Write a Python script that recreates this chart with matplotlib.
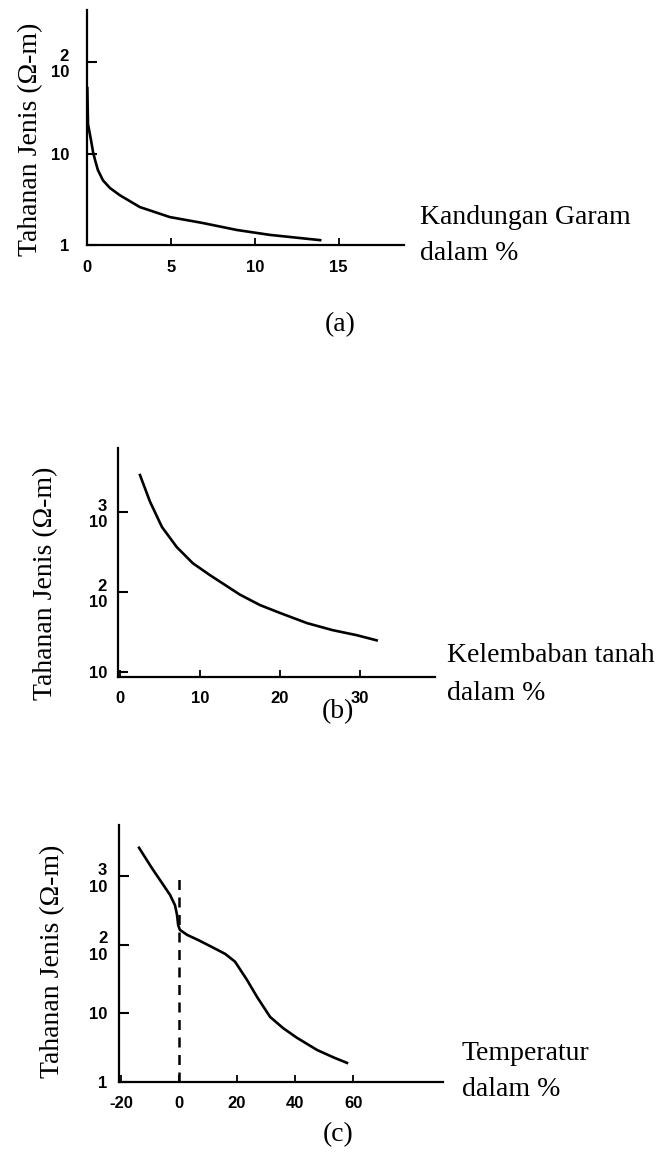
import numpy as np
import matplotlib.pyplot as plt
from matplotlib.ticker import NullLocator, FixedLocator, FixedFormatter

# Data (resistivity in ohm-m, log scale)
garam_x = [0.02, 0.06, 0.24, 0.36, 0.48, 0.65, 0.95, 1.37, 1.96, 3.15,
           4.94, 6.9, 8.93, 10.9, 13.9]
garam_r = [52, 21, 14, 10.4, 8.5, 6.6, 5.1, 4.2, 3.5, 2.6,
           2.02, 1.74, 1.46, 1.29, 1.13]

lembab_x = [2.5, 3.75, 5.25, 7.1, 9.1, 11.25, 15, 17.5, 20, 23.4, 26.6, 29.6, 32.1]
lembab_r = [2900, 1350, 650, 365, 230, 163, 93, 69, 55, 41, 33.5, 29, 25]

suhu_x = [-13.8, -9.3, -5.9, -3.1, -1.4, -0.7, -0.3, 0.3, 2.8, 6.6, 11.4,
          15.9, 19.3, 23.4, 26.9, 31.4, 35.9, 40.7, 47.6, 53.1, 57.9]
suhu_r = [2620, 1310, 804, 537, 380, 275, 195, 166, 140, 118, 93,
          74, 57, 31, 17.4, 8.9, 6.1, 4.4, 2.93, 2.3, 1.9]

W, H = 670, 1153
fig = plt.figure(figsize=(W / 100, H / 100), dpi=100)

serif = 'Liberation Serif'
tickfont = {'family': 'Liberation Sans', 'weight': 'bold', 'size': 12}


def box(left, top, right, bottom):
    return [left / W, 1 - bottom / H, (right - left) / W, (bottom - top) / H]


def setup(ax, xlim, ylim, xt, yt, ylab, ypad, xpad):
    ax.set_yscale('log')
    ax.set_xlim(*xlim)
    ax.set_ylim(*ylim)
    for s in ['top', 'right']:
        ax.spines[s].set_visible(False)
    for s in ['left', 'bottom']:
        ax.spines[s].set_linewidth(1.6)
    ax.xaxis.set_major_locator(FixedLocator(xt))
    ax.xaxis.set_major_formatter(FixedFormatter([str(v) for v in xt]))
    ax.yaxis.set_major_locator(FixedLocator(yt))
    ax.yaxis.set_major_formatter(FixedFormatter(ylab))
    ax.yaxis.set_minor_locator(NullLocator())
    ax.xaxis.set_minor_locator(NullLocator())
    ax.tick_params(axis='y', direction='in', length=7, width=1.5, pad=ypad)
    ax.tick_params(axis='x', direction='in', length=5, width=1.3, pad=xpad)
    for lab in ax.get_xticklabels() + ax.get_yticklabels():
        lab.set_fontproperties(tickfont)
        lab.set_multialignment('right')
        lab.set_linespacing(1.15)


def ftext(x, y, s, **kw):
    fig.text(x / W, 1 - y / H, s, family=serif, fontsize=20, **kw)


# (a) Kandungan garam
ax1 = fig.add_axes(box(87, 10, 404, 245))
ax1.plot(garam_x, garam_r, color='black', lw=1.9)
setup(ax1, (0, 18.9), (1, 10 ** 2.57), [0, 5, 10, 15], [1, 10, 100],
      ['1', '10', '2\n10'], 13, 11)
ftext(420, 218, 'Kandungan Garam', va='center')
ftext(420, 253, 'dalam %', va='center')
ftext(31, 139, 'Tahanan Jenis (\u03a9-m)', rotation=90, ha='center', va='center')
ftext(340, 325, '(a)', ha='center', va='center')

# (b) Kelembaban tanah
ax2 = fig.add_axes(box(118, 448, 435, 677))
ax2.plot(lembab_x, lembab_r, color='black', lw=1.9)
setup(ax2, (-0.25, 39.4), (10 ** 0.94, 10 ** 3.8), [0, 10, 20, 30],
      [10, 100, 1000], ['10', '2\n10', '3\n10'], 8, 10)
ftext(447, 655, 'Kelembaban tanah', va='center')
ftext(447, 693, 'dalam %', va='center')
ftext(46, 583, 'Tahanan Jenis (\u03a9-m)', rotation=90, ha='center', va='center')
ftext(338, 712, '(b)', ha='center', va='center')

# (c) Temperatur
ax3 = fig.add_axes(box(119, 825, 443, 1082))
ax3.plot(suhu_x, suhu_r, color='black', lw=1.9)
ax3.vlines(0, 1, 10 ** 3.05, colors='black', linestyles=(0, (4, 3)), lw=1.8)
setup(ax3, (-20.7, 91), (1, 10 ** 3.75), [-20, 0, 20, 40, 60],
      [1, 10, 100, 1000], ['1', '10', '2\n10', '3\n10'], 8.5, 10)
ftext(462, 1053, 'Temperatur', va='center')
ftext(462, 1090, 'dalam %', va='center')
ftext(53, 961, 'Tahanan Jenis (\u03a9-m)', rotation=90, ha='center', va='center')
ftext(338, 1135, '(c)', ha='center', va='center')

fig.savefig('out.png', dpi=100)
